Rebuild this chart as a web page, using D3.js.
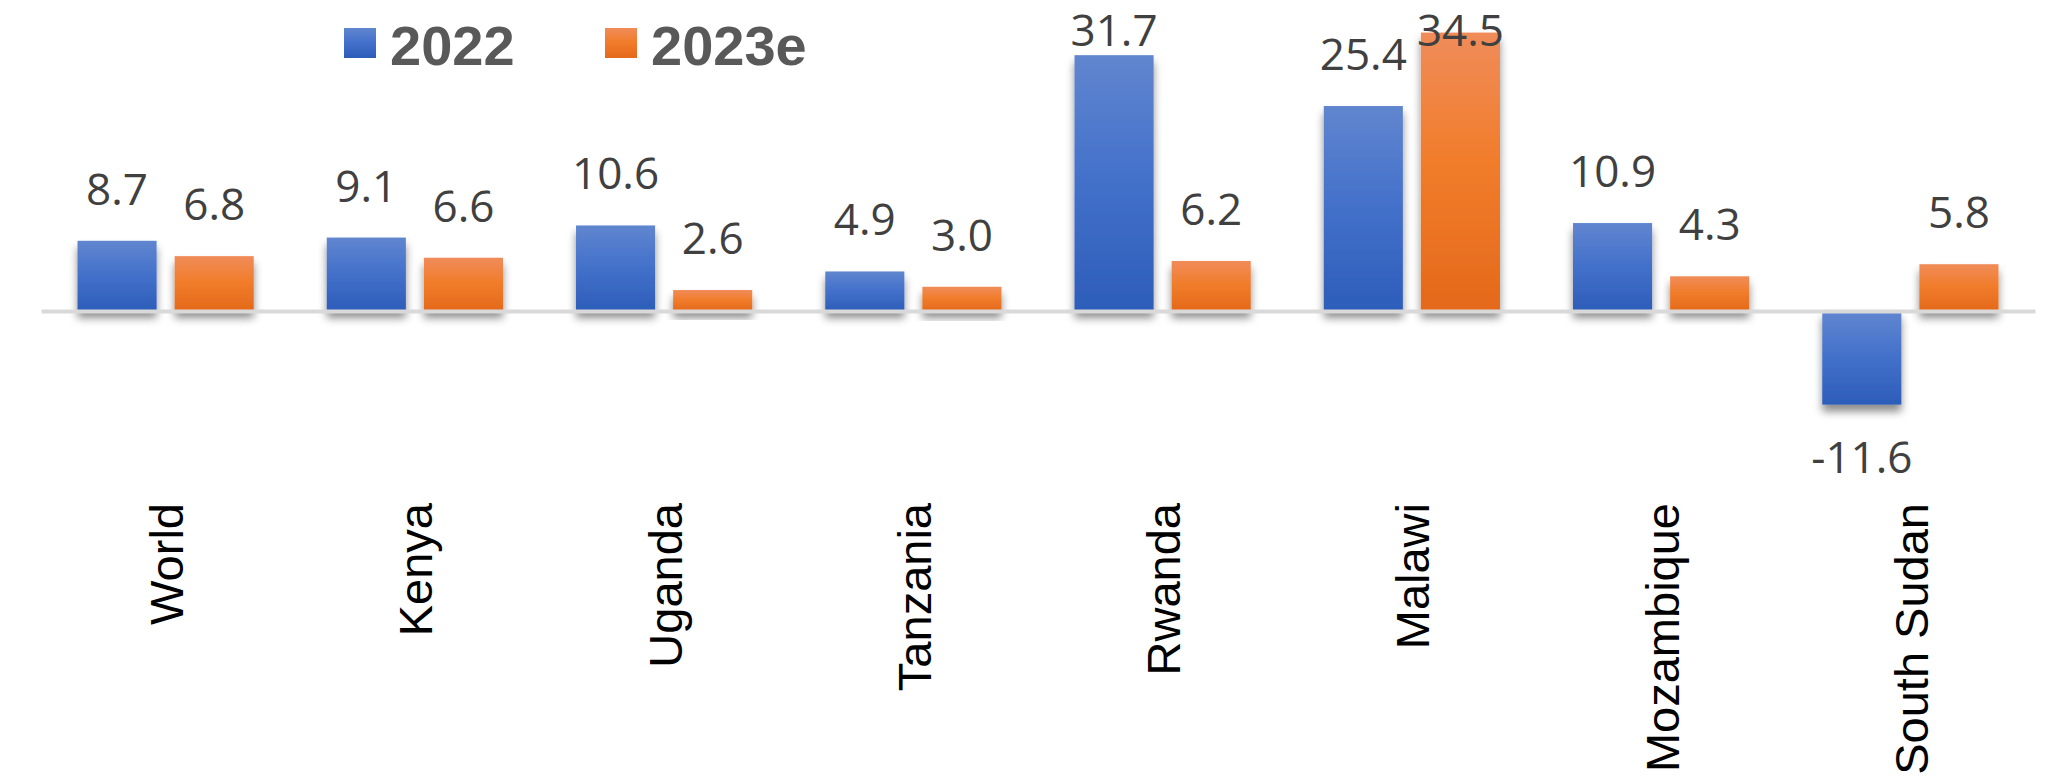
<!DOCTYPE html>
<html>
<head>
<meta charset="utf-8">
<script src="https://cdn.jsdelivr.net/npm/d3@7"></script>
<style>
  html, body { margin: 0; padding: 0; background: #ffffff; }
  svg { display: block; }
</style>
</head>
<body>
<svg id="chart" width="2045" height="781"></svg>
<script>
// Growth rates by country, 2022 vs 2023 estimate
const categories = ["World", "Kenya", "Uganda", "Tanzania", "Rwanda", "Malawi", "Mozambique", "South Sudan"];
const seriesNames = ["2022", "2023e"];
const values2022 = [8.7, 9.1, 10.6, 4.9, 31.7, 25.4, 10.9, -11.6];
const values2023e = [6.8, 6.6, 2.6, 3.0, 6.2, 34.5, 4.3, 5.8];

const seriesValues = { "2022": values2022, "2023e": values2023e };
const rows = categories.map((c, i) => ({
  category: c,
  items: seriesNames.map(s => ({ series: s, value: seriesValues[s][i] }))
}));

const svg = d3.select("#chart");

// Gradient fills and soft drop shadow
const defs = svg.append("defs");
const gradients = {
  "2022": [["0%", "#6186cf"], ["45%", "#4572cb"], ["100%", "#2c5db9"]],
  "2023e": [["0%", "#f08c5a"], ["45%", "#f17d2c"], ["100%", "#e4691a"]]
};
const gradId = s => "grad-" + s.replace(/[^a-z0-9]/gi, "");
Object.entries(gradients).forEach(([s, stops]) => {
  const g = defs.append("linearGradient")
    .attr("id", gradId(s))
    .attr("x1", 0).attr("y1", 0).attr("x2", 0).attr("y2", 1);
  stops.forEach(([o, c]) => g.append("stop").attr("offset", o).attr("stop-color", c));
});
const shadow = defs.append("filter").attr("id", "barShadow")
  .attr("x", "-20%").attr("y", "-20%").attr("width", "140%").attr("height", "160%");
shadow.append("feDropShadow")
  .attr("dx", 0).attr("dy", 7).attr("stdDeviation", 4.5)
  .attr("flood-color", "#000").attr("flood-opacity", 0.45);

// Scales
const x0 = d3.scaleBand()
  .domain(categories)
  .range([41, 2035])
  .paddingInner(0.293)
  .paddingOuter(0.1465);

const x1 = d3.scaleBand()
  .domain(seriesNames)
  .range([0, x0.bandwidth()])
  .paddingInner(0.1856);

const y = d3.scaleLinear()
  .domain([-12, 35])
  .range([407.84, 28.55]);

// Bars
const groups = svg.append("g").attr("class", "bars")
  .selectAll("g")
  .data(rows)
  .join("g")
  .attr("transform", d => `translate(${x0(d.category)},0)`);

groups.selectAll("rect")
  .data(d => d.items)
  .join("rect")
  .attr("x", d => x1(d.series))
  .attr("width", x1.bandwidth())
  .attr("y", d => y(Math.max(0, d.value)))
  .attr("height", d => Math.abs(y(d.value) - y(0)))
  .attr("fill", d => `url(#${gradId(d.series)})`)
  .attr("filter", "url(#barShadow)");

// Category axis along the zero line
const axis = svg.append("g")
  .attr("class", "x-axis")
  .attr("transform", `translate(0,${y(0)})`)
  .call(d3.axisBottom(x0).tickSize(0).tickSizeOuter(0).tickPadding(0));

axis.select(".domain")
  .attr("stroke", "#d9d9d9")
  .attr("stroke-width", 4);

axis.selectAll(".tick text")
  .attr("transform", `translate(0,${503 - y(0)}) rotate(-90)`)
  .attr("x", 0)
  .attr("y", 0)
  .attr("dy", "0.37em")
  .attr("text-anchor", "end")
  .attr("font-family", "'Liberation Sans', Arial, sans-serif")
  .attr("font-size", 47)
  .attr("fill", "#000000");

// Value labels (plain hyphen for negatives)
const fmt = v => v.toFixed(1);
groups.selectAll("text.value")
  .data(d => d.items)
  .join("text")
  .attr("class", "value")
  .attr("x", d => x1(d.series) + x1.bandwidth() / 2)
  .attr("y", d => d.value >= 0 ? Math.max(y(d.value) - 36, 46) : y(d.value) + 68)
  .attr("text-anchor", "middle")
  .attr("font-family", "'Open Sans', 'Noto Sans', sans-serif")
  .attr("font-size", 44)
  .attr("fill", "#404040")
  .text(d => fmt(d.value));

// Legend
const legend = svg.append("g").attr("class", "legend");
const legendX = d3.scaleOrdinal().domain(seriesNames).range([344, 605]);
const items = legend.selectAll("g")
  .data(seriesNames)
  .join("g")
  .attr("transform", s => `translate(${legendX(s)},0)`);
items.append("rect")
  .attr("x", 0).attr("y", 28)
  .attr("width", 32).attr("height", 30)
  .attr("fill", s => `url(#${gradId(s)})`);
items.append("text")
  .attr("x", 46).attr("y", 65)
  .attr("font-family", "'Liberation Sans', Arial, sans-serif")
  .attr("font-weight", "bold")
  .attr("font-size", 56)
  .attr("fill", "#595959")
  .text(s => s);
</script>
</body>
</html>
